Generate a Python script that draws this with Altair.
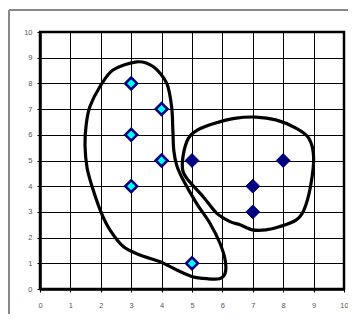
import altair as alt
import pandas as pd

# Series values
s1_x = [3, 4, 3, 4, 3, 5]
s1_y = [8, 7, 6, 5, 4, 1]
s2_x = [5, 7, 7, 8]
s2_y = [5, 4, 3, 5]

# Hand-drawn loops (data coordinates, clockwise)
loop1_x = [3.18, 3.73, 4.17, 4.33, 4.37, 4.4, 4.5, 4.71, 5.15, 5.59, 5.92, 6.09, 6.09, 5.9, 5.5, 5.02, 4.5, 3.95, 3.29, 2.74, 2.3, 2.02, 1.75, 1.55, 1.48, 1.52, 1.64, 1.97, 2.4]
loop1_y = [8.84, 8.65, 8.0, 7.09, 6.2, 5.4, 4.8, 4.24, 3.33, 2.56, 1.78, 1.13, 0.61, 0.4, 0.4, 0.48, 0.74, 1.06, 1.32, 1.65, 2.3, 2.95, 3.85, 4.7, 5.6, 6.4, 7.09, 7.87, 8.52]
loop2_x = [7.1, 7.76, 8.42, 8.84, 9.0, 8.9, 8.68, 8.42, 7.87, 7.43, 7.0, 6.58, 6.25, 5.81, 5.36, 4.9, 4.7, 4.71, 4.88, 5.2, 5.75, 6.4]
loop2_y = [6.69, 6.58, 6.26, 5.87, 5.14, 4.0, 3.07, 2.68, 2.42, 2.3, 2.3, 2.5, 2.62, 2.95, 3.6, 4.2, 4.6, 5.2, 5.86, 6.2, 6.45, 6.64]

ticks = list(range(0, 11))

pts1 = pd.DataFrame({"x": s1_x, "y": s1_y})
pts2 = pd.DataFrame({"x": s2_x, "y": s2_y})
loops = pd.DataFrame({
    "x": loop1_x + loop2_x,
    "y": loop1_y + loop2_y,
    "loop": ["a"] * len(loop1_x) + ["b"] * len(loop2_x),
    "i": list(range(len(loop1_x))) + list(range(len(loop2_x))),
})

xs = alt.Scale(domain=[0, 10], nice=False, zero=False)
ys = alt.Scale(domain=[0, 10], nice=False, zero=False)

common = dict(values=ticks, grid=True, gridColor="black", gridWidth=1, gridOpacity=1,
              domainColor="black", domainWidth=2.5, tickColor="black", tickSize=3, tickWidth=1,
              labelFontSize=7.5, labelColor="#555555", labelFont="Liberation Sans",
              labelOverlap=False, labelFlush=False, labelBound=False, title=None)
xax = alt.Axis(labelPadding=9, **common)
yax = alt.Axis(labelPadding=5, **common)

X = alt.X("x:Q", scale=xs, axis=xax)
Y = alt.Y("y:Q", scale=ys, axis=yax)

lines = alt.Chart(loops).mark_line(
    interpolate="cardinal-closed", tension=0.1, color="black", strokeWidth=3.2
).encode(x=X, y=Y, detail="loop:N", order="i:Q")

p1 = alt.Chart(pts1).mark_point(
    shape="diamond", filled=True, fill="#00FFFF", stroke="#000080", strokeWidth=2.6,
    size=140, opacity=1
).encode(x=X, y=Y)

p2 = alt.Chart(pts2).mark_point(
    shape="diamond", filled=True, fill="#000080", stroke="#000080", strokeWidth=1,
    size=190, opacity=1
).encode(x=X, y=Y)

frame_left = alt.Chart(pts1).mark_rule(color="#888888", strokeWidth=1.5).encode(
    x=alt.value(-31), y=alt.value(-22), y2=alt.value(320)
)
frame_top = alt.Chart(pts1).mark_rule(color="#888888", strokeWidth=1.5).encode(
    x=alt.value(-31), x2=alt.value(400), y=alt.value(-22)
)

chart = alt.layer(lines, p1, p2, frame_left, frame_top).properties(
    width=304, height=257,
    autosize=alt.AutoSizeParams(type="none"),
    padding={"left": 32, "top": 24, "right": 4, "bottom": 25},
    background="white",
).configure_view(stroke="black", strokeWidth=2.5)

chart.save("out.html", embed_options={"renderer": "svg", "actions": False})
